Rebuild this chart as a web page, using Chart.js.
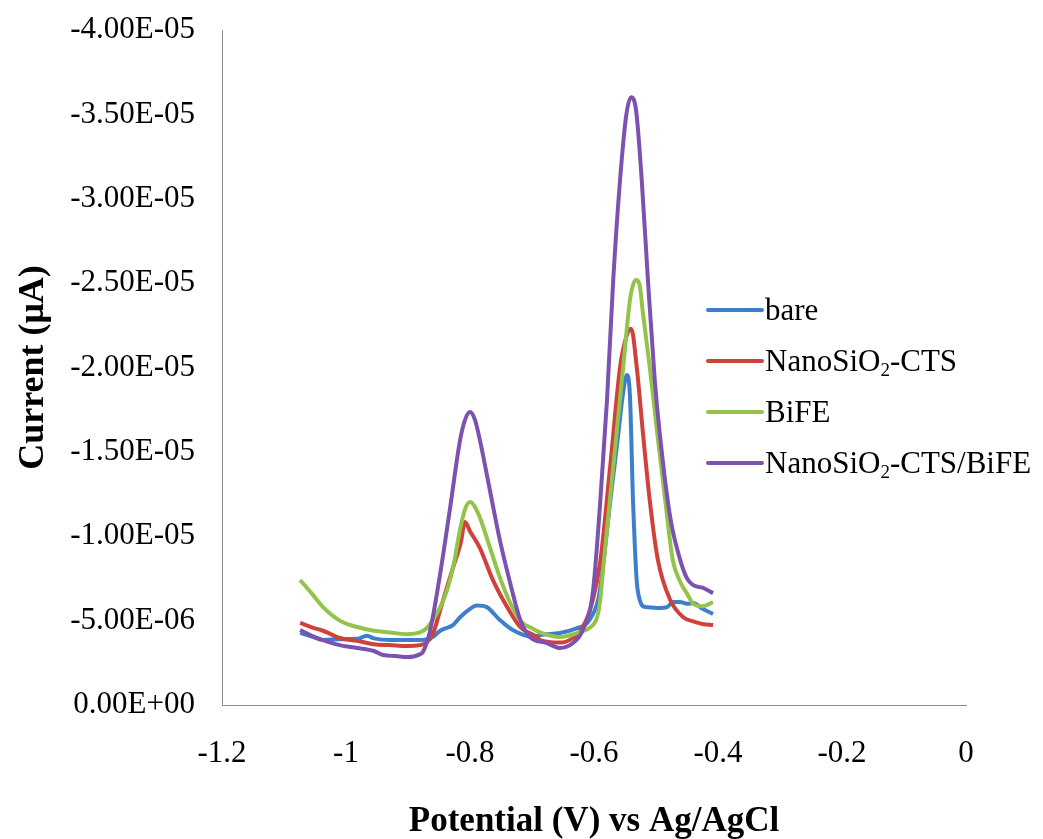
<!DOCTYPE html>
<html>
<head>
<meta charset="utf-8">
<title>Stripping voltammograms</title>
<script src="https://cdn.jsdelivr.net/npm/chart.js@4.4.0/dist/chart.umd.min.js"></script>
<style>
    html, body { margin: 0; padding: 0; background: #fff; }
    #wrap { width: 1043px; height: 839px; }
</style>
</head>
<body>
<div id="wrap"><canvas id="swv" width="1043" height="839"></canvas></div>
<script>
// Potential (V vs Ag/AgCl) and current (x 1e-6 A) for each electrode
const bareV = [-1.074, -1.055, -1.037, -1.010, -0.982, -0.966, -0.955, -0.929, -0.902, -0.876,
    -0.860, -0.848, -0.827, -0.816, -0.800, -0.789, -0.773, -0.752, -0.731, -0.698,
    -0.687, -0.655, -0.627, -0.611, -0.595, -0.590, -0.574, -0.561, -0.553, -0.547,
    -0.542, -0.537, -0.534, -0.531, -0.526, -0.521, -0.515, -0.494, -0.482, -0.473,
    -0.461, -0.450, -0.440, -0.425, -0.408];
const bareI = [-4.27, -4.05, -3.85, -3.90, -3.92, -4.10, -3.95, -3.85, -3.85, -3.85,
    -4.03, -4.40, -4.75, -5.20, -5.70, -5.90, -5.80, -5.04, -4.44, -4.03,
    -4.15, -4.27, -4.56, -4.86, -6.00, -6.90, -12.0, -16.0, -18.5, -19.55,
    -18.3, -12.0, -9.30, -7.30, -6.20, -5.85, -5.80, -5.75, -5.80, -6.10,
    -6.10, -6.00, -6.04, -5.70, -5.40];

const ctsV = [-1.074, -1.055, -1.037, -1.010, -0.982, -0.955, -0.929, -0.902, -0.881, -0.870,
    -0.860, -0.848, -0.837, -0.827, -0.815, -0.808, -0.800, -0.784, -0.763, -0.740,
    -0.719, -0.692, -0.687, -0.655, -0.634, -0.618, -0.602, -0.590, -0.574, -0.558,
    -0.548, -0.540, -0.531, -0.521, -0.510, -0.497, -0.477, -0.456, -0.440, -0.425,
    -0.408];
const ctsI = [-4.86, -4.60, -4.40, -3.97, -3.80, -3.60, -3.55, -3.50, -3.55, -3.70,
    -4.20, -5.63, -7.00, -8.18, -9.60, -10.84, -10.30, -9.30, -7.40, -5.80,
    -4.62, -4.03, -3.85, -3.70, -3.97, -4.62, -6.20, -8.47, -14.1, -20.0,
    -21.8, -22.3, -20.0, -16.1, -12.1, -8.60, -6.22, -5.20, -4.95, -4.80,
    -4.74];

const bifeV = [-1.074, -1.055, -1.037, -1.010, -0.982, -0.955, -0.929, -0.902, -0.881, -0.870,
    -0.860, -0.848, -0.837, -0.827, -0.816, -0.808, -0.800, -0.787, -0.768, -0.752,
    -0.735, -0.715, -0.700, -0.687, -0.655, -0.623, -0.606, -0.595, -0.590, -0.585,
    -0.569, -0.553, -0.542, -0.536, -0.531, -0.526, -0.521, -0.510, -0.498, -0.485,
    -0.473, -0.461, -0.450, -0.440, -0.425, -0.408];
const bifeI = [-7.41, -6.60, -5.80, -5.00, -4.62, -4.40, -4.30, -4.20, -4.30, -4.55,
    -5.04, -5.80, -6.80, -8.20, -10.4, -11.6, -12.03, -11.37, -9.36, -7.58,
    -6.04, -4.86, -4.55, -4.30, -4.03, -4.32, -4.60, -5.20, -6.20, -8.20,
    -14.1, -20.0, -24.0, -25.0, -25.18, -24.8, -23.2, -20.0, -16.1, -12.1,
    -8.60, -7.30, -6.60, -6.00, -5.85, -6.10];

const compV = [-1.074, -1.055, -1.037, -1.010, -0.982, -0.955, -0.940, -0.920, -0.902, -0.881,
    -0.876, -0.865, -0.848, -0.832, -0.816, -0.808, -0.800, -0.792, -0.784, -0.768,
    -0.752, -0.735, -0.719, -0.703, -0.676, -0.655, -0.634, -0.618, -0.602, -0.590,
    -0.579, -0.569, -0.558, -0.548, -0.540, -0.532, -0.523, -0.513, -0.502, -0.494,
    -0.477, -0.461, -0.450, -0.440, -0.425, -0.408];
const compI = [-4.44, -4.10, -3.85, -3.55, -3.38, -3.20, -2.96, -2.90, -2.84, -3.00,
    -3.14, -4.30, -7.80, -11.7, -15.7, -16.9, -17.36, -16.9, -15.7, -12.74,
    -9.80, -7.20, -5.04, -4.03, -3.67, -3.38, -3.67, -4.44, -6.63, -12.0,
    -18.1, -25.18, -31.1, -34.95, -36.02, -35.2, -31.1, -25.18, -19.25, -16.1,
    -11.1, -8.60, -7.50, -7.10, -6.95, -6.63];

const seriesNames = ['bare', 'NanoSiO₂-CTS', 'BiFE', 'NanoSiO₂-CTS/BiFE'];
const seriesColors = ['#3d7fcd', '#cf423c', '#93c34a', '#7c52b0'];

const xTicks = [-1.2, -1, -0.8, -0.6, -0.4, -0.2, 0];
const yTicks = [0, -5e-6, -1e-5, -1.5e-5, -2e-5, -2.5e-5, -3e-5, -3.5e-5, -4e-5];

const MICRO = 1e-6;
const SERIF = "'Liberation Serif', 'Times New Roman', serif";

function toPoints(vs, is) {
    return vs.map((v, k) => ({ x: v, y: is[k] * MICRO }));
}

// Excel-style scientific label: -3.50E-05, 0.00E+00
function sci(v) {
    if (Math.abs(v) < 1e-12) return '0.00E+00';
    const [m, e] = v.toExponential(2).split('e');
    const n = parseInt(e, 10);
    return m + 'E' + (n < 0 ? '-' : '+') + String(Math.abs(n)).padStart(2, '0');
}

// Legend sits inside the plot on the right; "₂" is drawn as a real subscript
const floatingLegend = {
    id: 'floatingLegend',
    afterDraw(chart) {
        const ctx = chart.ctx;
        const x0 = 708, x1 = 762, tx = 765, y0 = 310, gap = 51;
        ctx.save();
        chart.data.datasets.forEach((ds, i) => {
            const y = y0 + i * gap;
            ctx.strokeStyle = ds.borderColor;
            ctx.lineWidth = 4;
            ctx.lineCap = 'round';
            ctx.beginPath();
            ctx.moveTo(x0, y);
            ctx.lineTo(x1, y);
            ctx.stroke();

            ctx.fillStyle = '#000';
            ctx.textBaseline = 'alphabetic';
            ctx.textAlign = 'left';
            let x = tx;
            const base = y + 10;
            ds.label.split(/(₂)/).forEach(part => {
                if (!part) return;
                if (part === '₂') {
                    ctx.font = '19px ' + SERIF;
                    ctx.fillText('2', x, base + 5);
                    x += ctx.measureText('2').width;
                } else {
                    ctx.font = '31px ' + SERIF;
                    ctx.fillText(part, x, base);
                    x += ctx.measureText(part).width;
                }
            });
        });
        ctx.restore();
    }
};

const datasets = [
    toPoints(bareV, bareI),
    toPoints(ctsV, ctsI),
    toPoints(bifeV, bifeI),
    toPoints(compV, compI)
].map((data, i) => ({
    label: seriesNames[i],
    data,
    borderColor: seriesColors[i],
    backgroundColor: seriesColors[i],
    borderWidth: 4,
    pointRadius: 0,
    fill: false,
    cubicInterpolationMode: 'monotone',
    order: seriesNames.length - i
}));

new Chart(document.getElementById('swv'), {
    type: 'line',
    data: { datasets },
    plugins: [floatingLegend],
    options: {
        responsive: false,
        animation: false,
        layout: { padding: { top: 30, right: 77, left: 0, bottom: 0 } },
        plugins: {
            legend: { display: false },
            tooltip: { enabled: false }
        },
        scales: {
            x: {
                type: 'linear',
                min: -1.2,
                max: 0,
                afterBuildTicks: s => { s.ticks = xTicks.map(value => ({ value })); },
                afterFit: s => { s.height = 134; },
                grid: { display: false, drawTicks: false },
                border: { display: true, color: '#8c8c8c', width: 1 },
                ticks: {
                    padding: 30,
                    color: '#000',
                    font: { family: SERIF, size: 31 },
                    callback: v => String(Number(v.toFixed(1)))
                },
                title: {
                    display: true,
                    text: 'Potential (V) vs Ag/AgCl',
                    color: '#000',
                    font: { family: SERIF, size: 35, weight: 'bold' },
                    padding: { top: 0, bottom: -4 }
                }
            },
            y: {
                type: 'linear',
                min: -4e-5,
                max: 0,
                reverse: true,
                afterBuildTicks: s => { s.ticks = yTicks.map(value => ({ value })); },
                afterFit: s => {
                    s.width = 222;
                    // let the top label overhang the plot instead of pushing it down
                    s.paddingTop = 0;
                    s.paddingBottom = 0;
                },
                grid: { display: false, drawTicks: false },
                border: { display: true, color: '#8c8c8c', width: 1 },
                ticks: {
                    padding: 27,
                    color: '#000',
                    font: { family: SERIF, size: 31 },
                    callback: v => sci(v)
                },
                title: {
                    display: true,
                    text: 'Current (μA)',
                    color: '#000',
                    font: { family: SERIF, size: 36, weight: 'bold' },
                    padding: { top: 12, bottom: 0 }
                }
            }
        }
    }
});
</script>
</body>
</html>
